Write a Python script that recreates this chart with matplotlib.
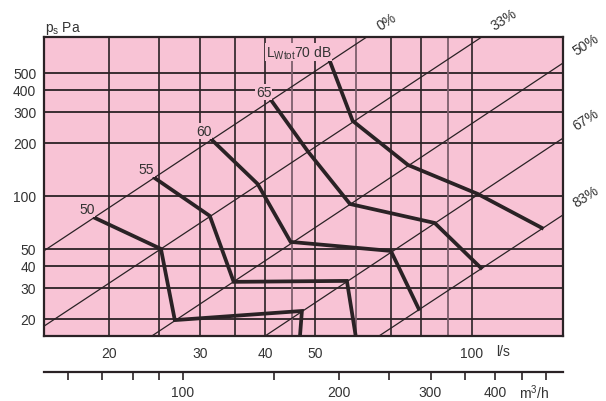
import matplotlib
matplotlib.use("Agg")
import matplotlib.pyplot as plt
from matplotlib.ticker import FixedLocator, NullFormatter, FixedFormatter

plt.rcParams['font.family'] = ['Liberation Sans', 'DejaVu Sans']
plt.rcParams['mathtext.fontset'] = 'custom'
plt.rcParams['mathtext.rm'] = 'Liberation Sans'

# ---- data ----
q_lim = (15, 150)          # l/s
p_lim = (16, 800)          # Pa
h_grid = [20, 30, 40, 50, 100, 200, 300, 400, 500]
v_grid_dark = [20, 25, 30, 35, 40, 50, 70, 80, 100]
v_grid_gray = [45, 60, 90]
x_ticks = [20, 30, 40, 50, 100]
y_ticks = [20, 30, 40, 50, 100, 200, 300, 400, 500]
m3h_major = [100, 200, 300, 400]
m3h_minor = [60, 70, 80, 90, 150, 250, 350, 450, 500]

# damper-position lines (endpoints q, p)
damper_labels = ['0%', '33%', '50%', '67%', '83%']
damper_q = [(15.0, 62.8), (15.0, 104.6), (24.2, 150), (40.0, 150), (66.3, 150)]
damper_p = [(48.8, 800), (18.2, 800), (16, 569), (16, 213), (16, 78)]

# sound power curves
db_labels = ['50', '55', '60', '65', '70']
db_q = [
    [18.8, 25.2, 26.8, 47.1, 46.7],
    [24.5, 31.3, 34.8, 57.5, 59.8],
    [31.6, 38.7, 44.8, 69.9, 79.1],
    [41.2, 48.3, 58.3, 84.9, 104.2],
    [53.3, 59.0, 75.4, 102.8, 136.6],
]
db_p = [
    [75.0, 50.0, 19.7, 22.2, 16.0],
    [126.5, 77.0, 32.5, 32.9, 16.0],
    [208, 117, 54.8, 48.7, 22.8],
    [346, 180, 90, 70.2, 39.0],
    [585, 267, 150, 102.6, 65.8],
]

PINK = '#F8C3D5'
DARK = '#2a2225'
GRAY = '#7d5f6c'
TXT = '#333333'
FS = 10

W, H = 606, 402
fig = plt.figure(figsize=(W / 100, H / 100), dpi=100)
L, R, T, B = 44, 563, 38, 337
ax = fig.add_axes([L / W, 1 - B / H, (R - L) / W, (B - T) / H])
ax.set_xscale('log')
ax.set_yscale('log')
ax.set_xlim(*q_lim)
ax.set_ylim(*p_lim)
ax.set_facecolor(PINK)

for v in h_grid:
    ax.axhline(v, color=DARK, lw=1.3, zorder=1)
for v in v_grid_dark:
    ax.axvline(v, color=DARK, lw=1.2, zorder=1)
for v in v_grid_gray:
    ax.axvline(v, color=GRAY, lw=1.3, zorder=1)

offsets = [(20, 16), (22, 18), (23, 19), (23, 19), (23, 19)]
for lab, qq, pp, off in zip(damper_labels, damper_q, damper_p, offsets):
    ax.plot(qq, pp, color=DARK, lw=0.9, zorder=2)
    ax.annotate(lab, xy=(qq[1], pp[1]), xytext=off, textcoords='offset pixels',
                ha='center', va='center', rotation=33, fontsize=FS,
                color=TXT, annotation_clip=False)

for i, (lab, qq, pp) in enumerate(zip(db_labels, db_q, db_p)):
    ax.plot(qq, pp, color=DARK, lw=2.7, zorder=3, solid_joinstyle='miter')
    if i < 4:
        ax.annotate(lab, xy=(qq[0], pp[0]), xytext=(-8, 9), textcoords='offset pixels',
                    ha='center', va='center', fontsize=FS, color=TXT, zorder=4,
                    bbox=dict(boxstyle='square,pad=0.05', fc=PINK, ec='none'))
    else:
        ax.annotate(r'L$_{\mathregular{Wtot}}$' + lab + ' dB', xy=(qq[0], pp[0]),
                    xytext=(2, 9), textcoords='offset pixels',
                    ha='right', va='center', fontsize=FS, color=TXT, zorder=4,
                    bbox=dict(boxstyle='square,pad=0.05', fc=PINK, ec='none'))

for s in ax.spines.values():
    s.set_color(DARK)
    s.set_linewidth(1.6)
    s.set_zorder(5)

ax.xaxis.set_major_locator(FixedLocator(x_ticks))
ax.xaxis.set_major_formatter(FixedFormatter([str(v) for v in x_ticks]))
ax.xaxis.set_minor_locator(FixedLocator([]))
ax.xaxis.set_minor_formatter(NullFormatter())
ax.yaxis.set_major_locator(FixedLocator(y_ticks))
ax.yaxis.set_major_formatter(FixedFormatter([str(v) for v in y_ticks]))
ax.yaxis.set_minor_locator(FixedLocator([]))
ax.yaxis.set_minor_formatter(NullFormatter())
ax.tick_params(axis='x', length=0, pad=7, labelsize=FS, labelcolor=TXT)
ax.tick_params(axis='y', length=0, pad=5.5, labelsize=FS, labelcolor=TXT)

# second axis (m3/h)
ax2 = fig.add_axes([L / W, 1 - 373 / H, (R - L) / W, 0.0001])
ax2.set_xscale('log')
ax2.set_xlim(q_lim[0] * 3.6, q_lim[1] * 3.6)
ax2.set_yticks([])
for k in ['left', 'right', 'top']:
    ax2.spines[k].set_visible(False)
ax2.spines['bottom'].set_color(DARK)
ax2.spines['bottom'].set_linewidth(1.6)
ax2.patch.set_visible(False)
ax2.xaxis.set_major_locator(FixedLocator(m3h_major))
ax2.xaxis.set_major_formatter(FixedFormatter([str(v) for v in m3h_major]))
ax2.xaxis.set_minor_locator(FixedLocator(m3h_minor))
ax2.xaxis.set_minor_formatter(NullFormatter())
ax2.tick_params(axis='x', which='both', direction='out', length=5.5, width=1.2,
                color=DARK, pad=4, labelsize=FS, labelcolor=TXT)

fig.text(45 / W, 1 - 32 / H, r'p$_{\mathregular{s}}$ Pa', ha='left', va='baseline',
         fontsize=FS, color=TXT)
fig.text(503 / W, 1 - 352 / H, 'l/s', ha='center', va='center', fontsize=FS, color=TXT)
fig.text(534 / W, 1 - 393 / H, r'm$^{\mathregular{3}}$/h', ha='center', va='center',
         fontsize=FS, color=TXT)

fig.savefig('out.png', dpi=100, facecolor='white')
